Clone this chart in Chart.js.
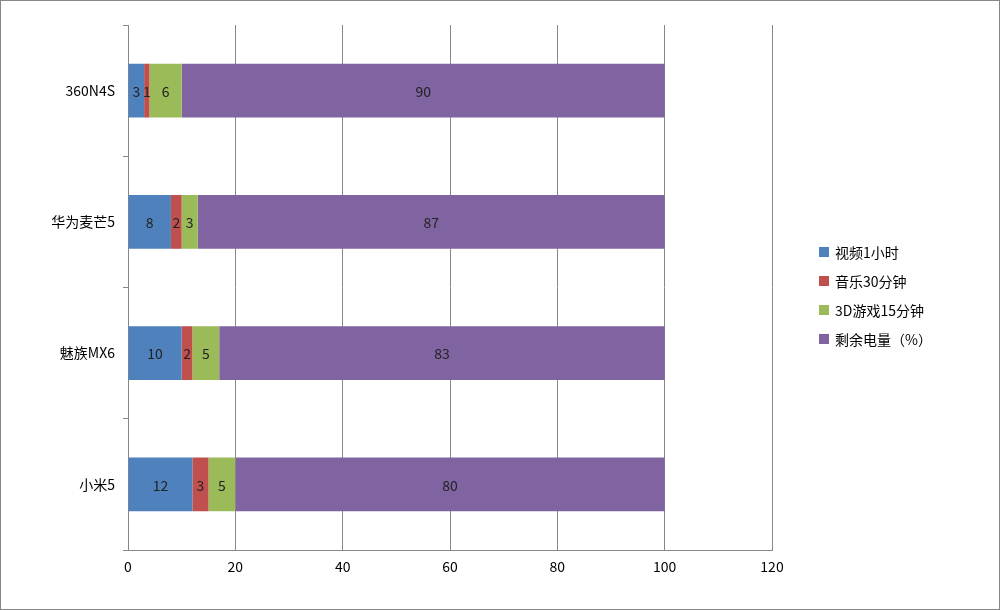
<!DOCTYPE html>
<html><head><meta charset="utf-8">
<script src="https://cdn.jsdelivr.net/npm/chart.js"></script>
<style>
body{margin:0;background:#fff;font-family:"Noto Sans CJK SC",sans-serif}
#wrap{position:relative;width:1000px;height:610px;box-sizing:border-box;border:1px solid #888}
#legend{position:absolute;left:818px;top:236px;font-size:14px;color:#000}
#legend div{height:29px;display:flex;align-items:center}
#legend span{display:inline-block;width:10px;height:10px;margin-right:6px}
</style></head><body>
<div id="wrap"><canvas id="c" width="998" height="608"></canvas>
<div id="legend"></div></div>
<script>
const categories=["360N4S","华为麦芒5","魅族MX6","小米5"];
const seriesNames=["视频1小时","音乐30分钟","3D游戏15分钟","剩余电量（%）"];
const video=[3,8,10,12];
const music=[1,2,2,3];
const game=[6,3,5,5];
const remain=[90,87,83,80];
const colors=["#4F81BD","#C0504D","#9BBB59","#8064A2"];
const xTicks=[0,20,40,60,80,100,120];
const vals=[video,music,game,remain];
document.getElementById('legend').innerHTML=seriesNames.map((n,i)=>`<div><span style="background:${colors[i]}"></span>${n}</div>`).join('');
const labelPlugin={id:'lbl',afterDatasetsDraw(ch){const ctx=ch.ctx;ctx.save();ctx.font='14px "Noto Sans CJK SC",sans-serif';ctx.fillStyle='#222';ctx.textAlign='center';ctx.textBaseline='middle';
ch.data.datasets.forEach((d,i)=>{ch.getDatasetMeta(i).data.forEach((b,j)=>{ctx.fillText(d.data[j],(b.x+b.base)/2,b.y+1);});});ctx.restore();}};
new Chart(document.getElementById('c'),{type:'bar',
data:{labels:categories,datasets:vals.map((v,i)=>({label:seriesNames[i],data:v,backgroundColor:colors[i],barPercentage:0.41,categoryPercentage:1}))},
options:{indexAxis:'y',responsive:false,animation:false,
layout:{padding:{top:24,right:227,left:0,bottom:0}},
plugins:{legend:{display:false},tooltip:{enabled:false}},
scales:{
x:{stacked:true,min:0,max:120,afterBuildTicks(a){a.ticks=xTicks.map(v=>({value:v}));},
ticks:{font:{size:14,family:'"Noto Sans CJK SC",sans-serif'},color:'#000',padding:8},
grid:{color:'#888',tickLength:0},border:{color:'#888'},afterFit(a){a.height=59;}},
y:{stacked:true,ticks:{font:{size:14,family:'"Noto Sans CJK SC",sans-serif'},color:'#000',padding:8},
grid:{drawOnChartArea:false,offset:true,color:'#888',tickLength:5},border:{color:'#888'},afterFit(a){a.width=127;}}
}},plugins:[labelPlugin]});
</script></body></html>
